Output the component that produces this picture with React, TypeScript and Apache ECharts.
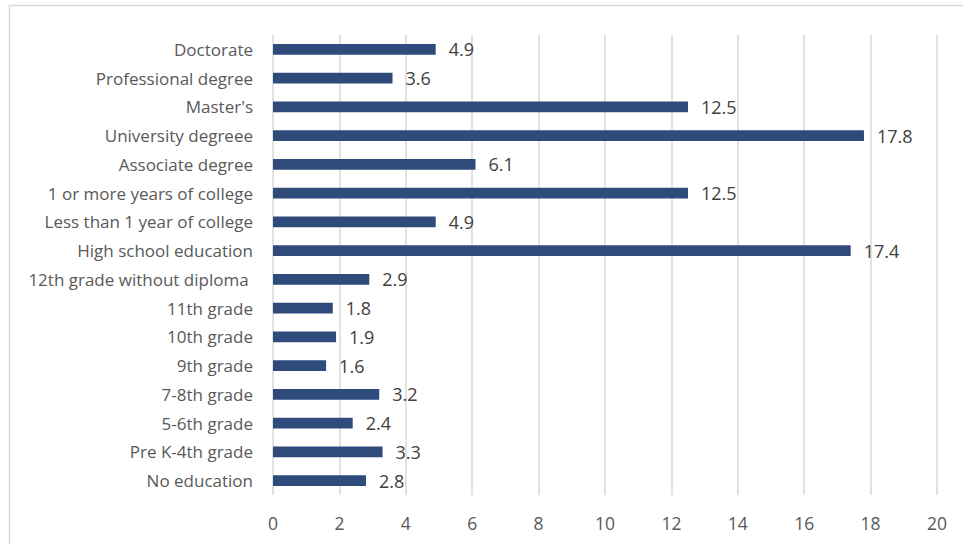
import React, { useEffect, useRef } from "react";
import * as echarts from "echarts";

const categories = [
  "No education",
  "Pre K-4th grade",
  "5-6th grade",
  "7-8th grade",
  "9th grade",
  "10th grade",
  "11th grade",
  "12th grade without diploma ",
  "High school education",
  "Less than 1 year of college",
  "1 or more years of college",
  "Associate degree",
  "University degreee",
  "Master's",
  "Professional degree",
  "Doctorate",
];
const values = [2.8, 3.3, 2.4, 3.2, 1.6, 1.9, 1.8, 2.9, 17.4, 4.9, 12.5, 6.1, 17.8, 12.5, 3.6, 4.9];
const xMin = 0;
const xMax = 20;
const xStep = 2;

export default function App() {
  const ref = useRef<HTMLDivElement>(null);
  useEffect(() => {
    if (!ref.current) return;
    const chart = echarts.init(ref.current, null, { renderer: "svg" });
    const font = "'Open Sans', 'Noto Sans', sans-serif";
    chart.setOption({
      animation: false,
      backgroundColor: "#ffffff",
      grid: { left: 273, right: 26, top: 35, bottom: 49, containLabel: false },
      graphic: [
        {
          type: "rect",
          shape: { x: 9.5, y: 5.5, width: 1000, height: 600 },
          style: { fill: "none", stroke: "#d9d9d9", lineWidth: 1.5 },
          silent: true,
        },
      ],
      xAxis: {
        type: "value",
        min: xMin,
        max: xMax,
        interval: xStep,
        axisLine: { show: false },
        axisTick: { show: false },
        splitLine: { show: true, lineStyle: { color: "#d9d9d9", width: 1.5 } },
        axisLabel: { color: "#595959", fontSize: 17.5, fontFamily: font, margin: 19 },
      },
      yAxis: {
        type: "category",
        data: categories,
        axisLine: { show: false },
        axisTick: { show: false },
        splitLine: { show: false },
        axisLabel: { color: "#595959", fontSize: 17, fontFamily: font, margin: 20 },
      },
      series: [
        {
          type: "bar",
          data: values,
          barWidth: "38%",
          itemStyle: { color: "#2f4b7c" },
          label: {
            show: true,
            position: "right",
            distance: 13,
            color: "#404040",
            fontSize: 18,
            fontFamily: font,
            formatter: (p: any) => p.value.toFixed(1),
          },
        },
      ],
    });
    return () => chart.dispose();
  }, []);
  return (
    <div
      ref={ref}
      style={{ position: "fixed", left: 0, top: 0, width: 963, height: 544 }}
    />
  );
}
